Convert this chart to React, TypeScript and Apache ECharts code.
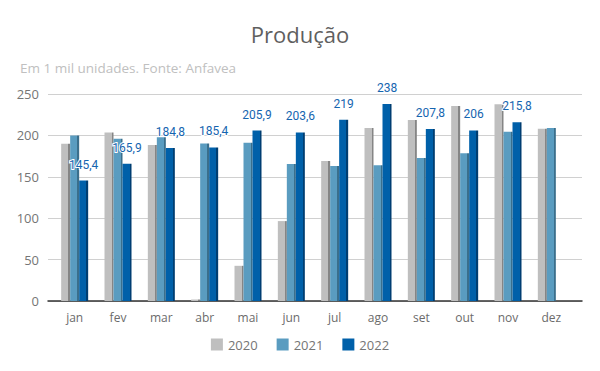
import React, { useEffect, useRef } from "react";
import * as echarts from "echarts";

const months = ["jan", "fev", "mar", "abr", "mai", "jun", "jul", "ago", "set", "out", "nov", "dez"];
const seriesNames = ["2020", "2021", "2022"];
const values2020 = [190, 203.5, 188.5, 1.8, 42.5, 96.5, 169, 209, 218.7, 235.5, 237.5, 208];
const values2021 = [200, 196, 197.7, 190.2, 191, 165.5, 163, 164, 172.7, 178.3, 204.5, 209];
const values2022: (number | null)[] = [145.4, 165.9, 184.8, 185.4, 205.9, 203.6, 219, 238, 207.8, 206, 215.8, null];
const yTicks = { min: 0, max: 250, interval: 50 };

const frontColors = ["#bfbfbf", "#5a9cc0", "#0060a9"];
const sideColors = ["#858585", "#3b6f8c", "#003e72"];

function barColor(i: number) {
  return new echarts.graphic.LinearGradient(0, 0, 1, 0, [
    { offset: 0, color: frontColors[i] },
    { offset: 0.78, color: frontColors[i] },
    { offset: 0.78, color: sideColors[i] },
    { offset: 1, color: sideColors[i] },
  ]);
}

export default function App() {
  const ref = useRef<HTMLDivElement>(null);
  useEffect(() => {
    if (!ref.current) return;
    const chart = echarts.init(ref.current, null, { renderer: "svg" });
    const fmt = (v: number) => String(v).replace(".", ",");
    const all = [values2020, values2021, values2022];
    chart.setOption({
      animation: false,
      backgroundColor: "#ffffff",
      title: [
        {
          text: "Produção",
          left: "center",
          top: 18,
          textStyle: { fontFamily: "Open Sans", fontSize: 22, fontWeight: "normal", color: "#5f5f5f" },
        },
        {
          text: "Em 1 mil unidades. Fonte: Anfavea",
          left: 15,
          top: 56,
          textStyle: { fontFamily: "Open Sans", fontSize: 13.5, fontWeight: "normal", color: "#c0c0c0" },
        },
      ],
      legend: {
        data: seriesNames.map((n, i) => ({ name: n, itemStyle: { color: frontColors[i] } })),
        bottom: 15,
        left: "center",
        itemWidth: 12,
        itemHeight: 12,
        itemGap: 19,
        icon: "rect",
        textStyle: { fontFamily: "Open Sans", fontSize: 13, color: "#757575" },
      },
      grid: [
        { left: 48, right: 18, top: 94, bottom: 70 },
        { left: 53, right: 27, top: 94, bottom: 70 },
      ],
      xAxis: [
        {
          type: "category",
          gridIndex: 0,
          data: months,
          axisLine: { show: true, lineStyle: { color: "#333333", width: 1.5 } },
          axisTick: { show: false },
          axisLabel: { show: false },
        },
        {
          type: "category",
          gridIndex: 1,
          data: months,
          axisLine: { show: false },
          axisTick: { show: false },
          axisLabel: { margin: 10, fontFamily: "Open Sans", fontSize: 12, color: "#6b6b6b" },
        },
      ],
      yAxis: [
        {
          type: "value",
          gridIndex: 0,
          min: yTicks.min,
          max: yTicks.max,
          interval: yTicks.interval,
          axisLabel: { margin: 9, fontFamily: "Open Sans", fontSize: 13, color: "#757575" },
          splitLine: { lineStyle: { color: "#d0d0d0", width: 1 } },
          axisLine: { show: false },
          axisTick: { show: false },
        },
        {
          type: "value",
          gridIndex: 1,
          min: yTicks.min,
          max: yTicks.max,
          interval: yTicks.interval,
          show: false,
          splitLine: { show: false },
        },
      ],
      series: seriesNames.map((name, i) => ({
        name,
        type: "bar",
        xAxisIndex: 1,
        yAxisIndex: 1,
        data: all[i],
        barWidth: 9,
        barGap: "0%",
        itemStyle: { color: barColor(i) },
        label:
          i === 2
            ? {
                show: true,
                position: "top",
                distance: 10,
                formatter: (p: any) => fmt(p.value),
                fontFamily: "Roboto",
                fontSize: 12,
                color: "#1565b0",
                textBorderColor: "#ffffff",
                textBorderWidth: 2,
              }
            : { show: false },
      })),
    });
    return () => chart.dispose();
  }, []);
  return <div ref={ref} style={{ width: 600, height: 371, margin: -8 }} />;
}
